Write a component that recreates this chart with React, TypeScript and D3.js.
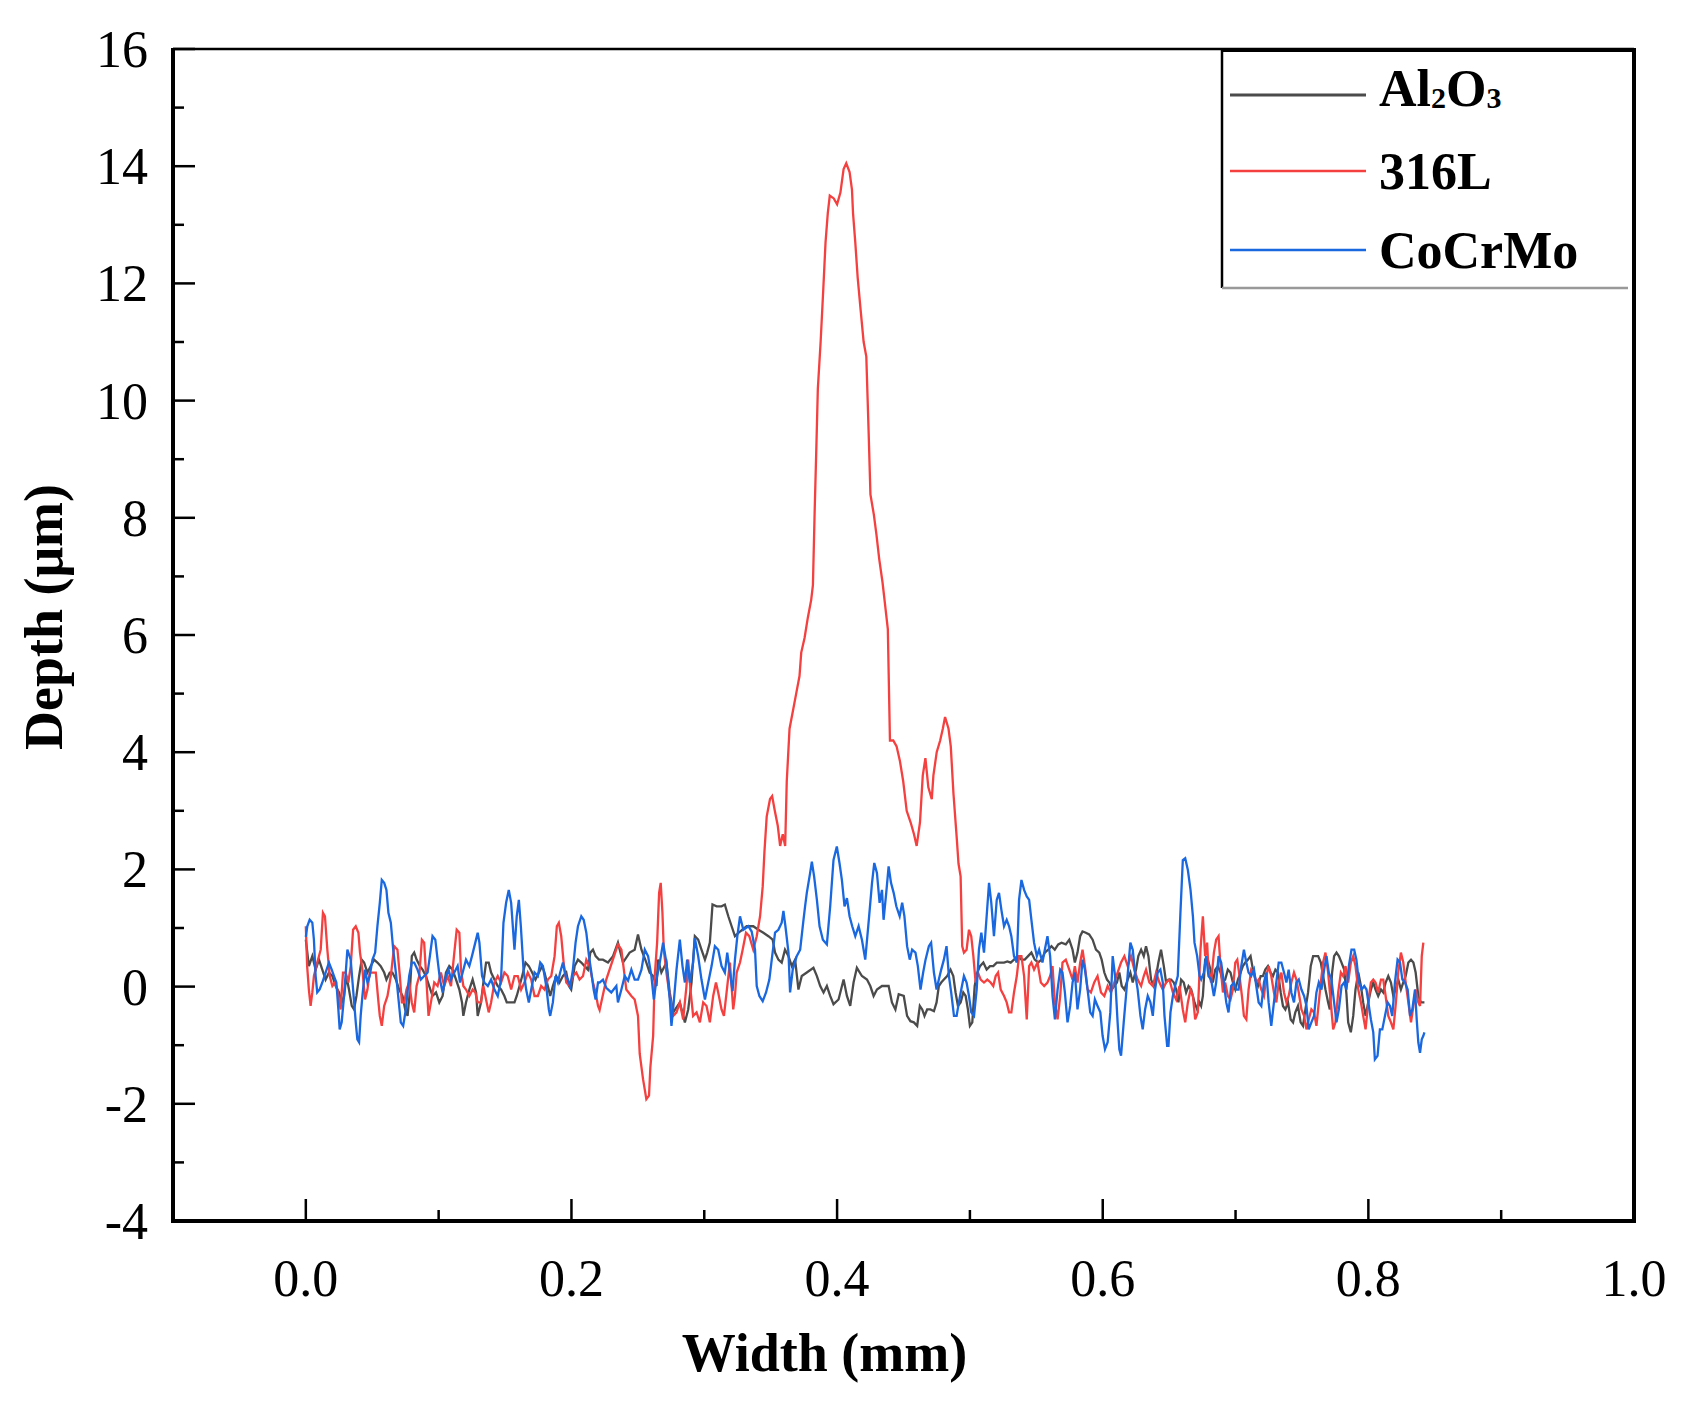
import React from 'react'
import * as d3 from 'd3'

type Pt = [number, number]

// Width (mm) vs depth (µm)
const al2o3Data: Pt[] = [
  [0.0, 0.8], [0.0023, 0.35], [0.0049, 0.52], [0.0074, 0.29], [0.0099, 0.46], [0.0124, 0.29], [0.0149, 0.12], [0.0174, 0.24],
  [0.02, 0.18], [0.0225, 0.01], [0.025, -0.1], [0.027, -0.27], [0.0288, -0.16], [0.0305, 0.18], [0.0325, -0.05], [0.0346, -0.33],
  [0.0363, -0.39], [0.0381, -0.16], [0.0401, 0.18], [0.0421, 0.46], [0.0439, 0.41], [0.0464, 0.24], [0.0489, 0.35], [0.0514, 0.46],
  [0.0539, 0.41], [0.0564, 0.35], [0.059, 0.24], [0.0607, 0.12], [0.0632, 0.24], [0.0652, 0.24], [0.0678, 0.12], [0.0703, -0.05],
  [0.0728, -0.16], [0.0748, -0.39], [0.0766, -0.5], [0.0783, -0.1], [0.0798, 0.52], [0.0816, 0.58], [0.0834, 0.46], [0.0859, 0.35],
  [0.0879, 0.29], [0.0904, 0.18], [0.0929, 0.01], [0.0954, -0.16], [0.098, -0.1], [0.1005, -0.27], [0.103, -0.16], [0.1055, 0.24],
  [0.108, 0.35], [0.1105, 0.29], [0.1131, 0.12], [0.1156, -0.05], [0.1176, -0.27], [0.1186, -0.5], [0.1206, -0.27], [0.1231, -0.05],
  [0.1256, 0.12], [0.1282, -0.1], [0.1294, -0.5], [0.1319, -0.27], [0.1337, 0.07], [0.1357, 0.41], [0.1377, 0.41], [0.1395, 0.24],
  [0.142, 0.12], [0.1445, 0.01], [0.147, -0.05], [0.1495, -0.16], [0.1513, -0.27], [0.1546, -0.27], [0.1571, -0.27], [0.1588, -0.16],
  [0.1609, 0.01], [0.1629, 0.18], [0.1654, 0.41], [0.1679, 0.35], [0.1704, 0.24], [0.1729, 0.12], [0.1755, 0.24], [0.178, 0.35],
  [0.1797, 0.24], [0.1822, 0.01], [0.184, -0.16], [0.186, 0.01], [0.1885, 0.18], [0.191, 0.07], [0.1936, 0.18], [0.1961, 0.24],
  [0.1981, 0.01], [0.1998, -0.05], [0.2024, 0.35], [0.2049, 0.46], [0.2074, 0.41], [0.2099, 0.35], [0.2124, 0.29], [0.2142, 0.58],
  [0.2162, 0.63], [0.2182, 0.52], [0.2207, 0.46], [0.2237, 0.46], [0.2275, 0.41], [0.2313, 0.52], [0.235, 0.75], [0.2388, 0.41],
  [0.2438, 0.58], [0.2476, 0.63], [0.2501, 0.89], [0.2527, 0.63], [0.2564, 0.41], [0.2589, 0.24], [0.2615, 0.18], [0.264, 0.01],
  [0.2652, 0.46], [0.2677, 0.24], [0.2715, 0.41], [0.274, -0.1], [0.2766, -0.44], [0.2816, -0.27], [0.2854, -0.61], [0.2879, -0.39],
  [0.2904, 0.07], [0.2929, 0.86], [0.2954, 0.8], [0.2979, 0.63], [0.3005, 0.46], [0.3022, 0.58], [0.3042, 0.75], [0.3062, 1.4],
  [0.3093, 1.37], [0.313, 1.37], [0.3155, 1.4], [0.3181, 1.2], [0.3206, 1.03], [0.3231, 0.86], [0.3269, 0.94], [0.3319, 1.03],
  [0.3369, 1.03], [0.3407, 0.97], [0.3445, 0.92], [0.3483, 0.86], [0.3515, 0.8], [0.3533, 0.58], [0.3558, 0.46], [0.3583, 0.41],
  [0.3608, 0.63], [0.3634, 0.52], [0.3659, 0.35], [0.3684, 0.46], [0.3709, -0.05], [0.3734, 0.18], [0.3772, 0.24], [0.3822, 0.32],
  [0.3848, 0.18], [0.3873, 0.01], [0.3898, -0.1], [0.3923, 0.01], [0.3948, -0.16], [0.3973, -0.3], [0.4011, -0.22], [0.4049, 0.12],
  [0.4074, -0.16], [0.4099, -0.33], [0.4124, 0.07], [0.4149, 0.32], [0.4187, 0.18], [0.4225, 0.12], [0.425, 0.01], [0.4275, -0.16],
  [0.43, -0.05], [0.4338, 0.01], [0.4388, 0.01], [0.4413, -0.27], [0.4439, -0.39], [0.4464, -0.13], [0.4502, -0.16], [0.4527, -0.5],
  [0.4552, -0.59], [0.4578, -0.61], [0.4603, -0.67], [0.4623, -0.33], [0.4641, -0.39], [0.4658, -0.5], [0.4678, -0.39], [0.4703, -0.39],
  [0.4729, -0.42], [0.4749, -0.27], [0.4766, 0.01], [0.4784, 0.07], [0.4804, 0.12], [0.4829, 0.18], [0.4854, 0.29], [0.4875, 0.18],
  [0.4892, -0.1], [0.491, -0.33], [0.493, -0.27], [0.495, -0.1], [0.4968, -0.16], [0.4985, -0.39], [0.5, -0.67], [0.5018, -0.61],
  [0.5036, 0.01], [0.5056, 0.24], [0.5076, 0.35], [0.5101, 0.41], [0.5126, 0.29], [0.5151, 0.35], [0.5176, 0.35], [0.5202, 0.41],
  [0.5227, 0.41], [0.5257, 0.41], [0.5282, 0.43], [0.5307, 0.41], [0.5332, 0.46], [0.5358, 0.52], [0.5388, 0.46], [0.5413, 0.46],
  [0.5438, 0.52], [0.5463, 0.58], [0.5488, 0.46], [0.5514, 0.41], [0.5539, 0.46], [0.5564, 0.58], [0.5589, 0.63], [0.5614, 0.69],
  [0.5639, 0.63], [0.5665, 0.72], [0.569, 0.75], [0.5722, 0.72], [0.5748, 0.8], [0.5773, 0.63], [0.579, 0.41], [0.581, 0.58],
  [0.583, 0.86], [0.5848, 0.94], [0.5873, 0.92], [0.5898, 0.89], [0.5924, 0.8], [0.5949, 0.63], [0.5974, 0.58], [0.5992, 0.46],
  [0.6012, 0.24], [0.6032, 0.12], [0.605, 0.07], [0.6067, -0.05], [0.6087, 0.01], [0.6107, 0.07], [0.6125, 0.24], [0.6143, 0.01],
  [0.6163, -0.05], [0.6188, 0.12], [0.6208, 0.24], [0.6226, 0.07], [0.6251, 0.29], [0.6268, 0.52], [0.6289, 0.63], [0.6309, 0.52],
  [0.6326, 0.69], [0.6344, 0.52], [0.6364, 0.12], [0.6384, 0.01], [0.6402, 0.18], [0.6419, 0.41], [0.6439, 0.63], [0.646, 0.35],
  [0.6477, 0.07], [0.6495, 0.12], [0.6515, 0.12], [0.6535, 0.07], [0.6553, -0.05], [0.657, -0.27], [0.659, 0.12], [0.661, 0.07],
  [0.6628, -0.1], [0.6646, 0.01], [0.6666, -0.05], [0.6691, -0.27], [0.6711, -0.39], [0.6729, -0.27], [0.6741, -0.33], [0.6754, -0.16],
  [0.6771, 0.46], [0.6791, 0.46], [0.6811, 0.29], [0.6829, 0.07], [0.6847, 0.29], [0.6867, 0.35], [0.6887, 0.24], [0.6905, 0.07],
  [0.6922, 0.12], [0.6942, 0.29], [0.6962, 0.24], [0.698, 0.07], [0.6998, -0.05], [0.7018, 0.12], [0.7038, 0.24], [0.7055, 0.35],
  [0.7073, 0.41], [0.7093, 0.46], [0.7113, 0.52], [0.7131, 0.29], [0.7149, 0.12], [0.7169, 0.01], [0.7189, 0.18], [0.7206, 0.18],
  [0.7224, 0.29], [0.7244, 0.35], [0.7264, 0.24], [0.7282, 0.18], [0.73, 0.29], [0.732, 0.24], [0.734, -0.1], [0.7357, -0.33],
  [0.7375, -0.39], [0.7395, -0.27], [0.7415, -0.56], [0.7433, -0.61], [0.745, -0.44], [0.747, -0.33], [0.749, -0.61], [0.7508, -0.67],
  [0.7526, -0.39], [0.7546, -0.1], [0.7566, 0.35], [0.7584, 0.52], [0.7601, 0.52], [0.7622, 0.52], [0.7642, 0.41], [0.7659, 0.18],
  [0.7677, -0.05], [0.7697, -0.27], [0.771, -0.39], [0.7727, 0.24], [0.7742, 0.52], [0.776, 0.58], [0.7778, 0.52], [0.7798, 0.41],
  [0.7818, 0.29], [0.7835, -0.13], [0.7848, -0.61], [0.7868, -0.78], [0.7886, -0.5], [0.7903, -0.05], [0.7924, 0.24], [0.7944, 0.01],
  [0.7961, -0.27], [0.7979, -0.5], [0.7999, -0.27], [0.8019, -0.05], [0.8037, 0.07], [0.8054, -0.05], [0.8074, -0.16], [0.8095, -0.05],
  [0.8112, -0.1], [0.813, 0.07], [0.815, 0.18], [0.817, 0.07], [0.8188, -0.16], [0.8205, -0.05], [0.8225, 0.12], [0.8245, -0.05],
  [0.8263, 0.07], [0.8281, 0.18], [0.8301, 0.41], [0.8321, 0.46], [0.8339, 0.41], [0.8356, 0.24], [0.8376, -0.16], [0.8396, -0.27],
  [0.8422, -0.27],
]

const ss316lData: Pt[] = [
  [0.0, 1.03], [0.001, 0.35], [0.0023, -0.05], [0.0036, -0.33], [0.0049, -0.1], [0.0061, 0.18], [0.0086, 0.41], [0.0112, 0.63],
  [0.0129, 1.26], [0.0144, 1.2], [0.0162, 0.63], [0.018, 0.18], [0.02, 0.01], [0.022, 0.07], [0.0237, -0.05], [0.0262, -0.39],
  [0.028, 0.24], [0.03, 0.24], [0.032, 0.07], [0.0338, 0.35], [0.0356, 0.97], [0.0376, 1.03], [0.0396, 0.92], [0.0408, 0.58],
  [0.0426, 0.29], [0.0446, -0.22], [0.0464, -0.05], [0.0481, 0.24], [0.0502, 0.24], [0.0527, 0.24], [0.0547, -0.27], [0.0557, -0.5],
  [0.0572, -0.67], [0.059, -0.33], [0.0615, -0.16], [0.064, 0.18], [0.0665, 0.69], [0.069, 0.63], [0.0708, 0.18], [0.0723, -0.27],
  [0.0741, -0.27], [0.0758, -0.05], [0.0778, 0.07], [0.0798, -0.27], [0.0816, -0.44], [0.0834, 0.01], [0.0854, 0.18], [0.0874, 0.8],
  [0.0891, 0.75], [0.0909, 0.07], [0.0924, -0.5], [0.0942, -0.27], [0.0967, 0.07], [0.0992, 0.01], [0.1017, 0.24], [0.1042, 0.01],
  [0.1068, 0.18], [0.1093, 0.01], [0.1118, 0.58], [0.1136, 0.97], [0.1156, 0.92], [0.1168, 0.29], [0.1186, 0.01], [0.1206, -0.05],
  [0.1231, -0.16], [0.1256, -0.05], [0.1276, -0.1], [0.1294, -0.27], [0.1319, -0.27], [0.1337, 0.01], [0.1357, -0.22], [0.1377, -0.44],
  [0.1395, -0.27], [0.142, 0.07], [0.1445, 0.18], [0.147, 0.07], [0.1495, 0.24], [0.152, 0.18], [0.1546, -0.05], [0.1571, 0.18],
  [0.1596, 0.18], [0.1621, -0.05], [0.1646, 0.07], [0.1671, 0.24], [0.1697, 0.12], [0.1722, -0.16], [0.1747, -0.16], [0.1772, 0.01],
  [0.1797, -0.05], [0.1822, 0.12], [0.1848, 0.18], [0.1873, 0.52], [0.189, 1.03], [0.1905, 1.09], [0.1923, 0.86], [0.1941, 0.41],
  [0.1961, 0.07], [0.1986, 0.01], [0.2011, 0.18], [0.2036, 0.24], [0.2061, 0.12], [0.2087, 0.18], [0.2112, 0.46], [0.2137, 0.35],
  [0.2162, 0.07], [0.2182, -0.1], [0.22, -0.33], [0.2212, -0.4], [0.2262, 0.12], [0.235, 0.72], [0.2376, 0.63], [0.2413, -0.05],
  [0.2451, -0.16], [0.2476, -0.22], [0.2501, -0.5], [0.2514, -1.15], [0.2539, -1.58], [0.2564, -1.92], [0.2584, -1.86], [0.2594, -1.38],
  [0.2615, -0.84], [0.2627, 0.18], [0.2645, 0.75], [0.266, 1.6], [0.2672, 1.77], [0.2685, 1.26], [0.2695, 0.63], [0.2715, 0.24],
  [0.274, -0.16], [0.2766, -0.5], [0.2791, -0.44], [0.2816, -0.27], [0.2841, -0.56], [0.2866, 0.01], [0.2879, 0.46], [0.2896, -0.05],
  [0.2916, -0.5], [0.2942, -0.44], [0.2967, -0.61], [0.2992, -0.27], [0.3017, -0.33], [0.3042, -0.61], [0.3067, -0.16], [0.3088, 0.07],
  [0.3105, -0.1], [0.313, -0.39], [0.3148, -0.5], [0.3168, -0.1], [0.3193, 0.41], [0.3218, -0.39], [0.3231, -0.16], [0.3244, 0.24],
  [0.3269, 0.41], [0.3289, 0.63], [0.3314, 0.92], [0.3339, 0.86], [0.3369, 0.63], [0.3395, 0.86], [0.342, 1.2], [0.344, 1.71],
  [0.3453, 2.3], [0.347, 2.9], [0.3495, 3.2], [0.3511, 3.25], [0.3531, 3.0], [0.3553, 2.75], [0.3571, 2.4], [0.3591, 2.6],
  [0.3609, 2.4], [0.3621, 3.5], [0.3642, 4.4], [0.3667, 4.7], [0.3692, 5.0], [0.3717, 5.3], [0.373, 5.7], [0.3755, 5.95],
  [0.378, 6.3], [0.3805, 6.6], [0.3818, 6.85], [0.3831, 8.1], [0.3845, 9.3], [0.3855, 10.2], [0.3876, 11.0], [0.3896, 11.9],
  [0.3913, 12.7], [0.393, 13.2], [0.3945, 13.5], [0.3975, 13.45], [0.4, 13.35], [0.4025, 13.55], [0.4049, 13.95], [0.4069, 14.05],
  [0.4094, 13.9], [0.4112, 13.6], [0.412, 13.2], [0.4137, 12.7], [0.4155, 12.1], [0.4175, 11.6], [0.42, 11.0], [0.422, 10.75],
  [0.4237, 9.5], [0.4251, 8.4], [0.4277, 8.05], [0.4297, 7.7], [0.4317, 7.3], [0.4342, 6.9], [0.4362, 6.5], [0.4382, 6.1],
  [0.4398, 4.2], [0.4423, 4.2], [0.4448, 4.1], [0.4473, 3.85], [0.4498, 3.5], [0.4524, 3.0], [0.4554, 2.8], [0.4579, 2.6],
  [0.4599, 2.4], [0.4624, 2.8], [0.4645, 3.6], [0.4665, 3.9], [0.4687, 3.4], [0.4713, 3.2], [0.4725, 3.6], [0.475, 4.0],
  [0.4776, 4.2], [0.4796, 4.4], [0.4813, 4.6], [0.4839, 4.4], [0.4856, 4.1], [0.4876, 3.3], [0.4902, 2.5], [0.4914, 2.1],
  [0.493, 1.88], [0.4942, 0.69],
  [0.4955, 0.58], [0.4975, 0.63], [0.4993, 0.97], [0.501, 0.86], [0.5026, 0.52], [0.5043, 0.07], [0.5061, 0.24], [0.5081, 0.12],
  [0.5106, 0.07], [0.5131, 0.12], [0.5156, 0.07], [0.5176, 0.01], [0.5194, 0.18], [0.5212, 0.24], [0.5232, -0.05], [0.5257, -0.16],
  [0.5277, -0.27], [0.5295, -0.44], [0.5312, -0.44], [0.5332, -0.1], [0.5353, 0.18], [0.537, 0.52], [0.5388, 0.52], [0.5408, 0.18],
  [0.5428, -0.56], [0.5446, 0.35], [0.5463, 0.41], [0.5483, 0.29], [0.5509, 0.41], [0.5534, 0.07], [0.5559, 0.01], [0.5584, 0.07],
  [0.5604, 0.18], [0.5622, 0.35], [0.564, -0.27], [0.566, -0.56], [0.568, -0.16], [0.5697, 0.41], [0.5722, 0.46], [0.5748, 0.29],
  [0.5773, 0.12], [0.579, 0.35], [0.581, 0.07], [0.583, 0.41], [0.5848, 0.63], [0.5866, 0.35], [0.5886, -0.05], [0.5911, -0.1],
  [0.5936, 0.07], [0.5961, 0.18], [0.5987, -0.1], [0.6012, -0.16], [0.6037, 0.01], [0.6062, -0.1], [0.6087, 0.07], [0.6112, 0.24],
  [0.6138, 0.41], [0.6163, 0.52], [0.6188, 0.35], [0.6213, 0.52], [0.6238, 0.29], [0.6263, 0.12], [0.6289, 0.01], [0.6309, 0.18],
  [0.6326, 0.29], [0.6351, 0.07], [0.6377, 0.01], [0.6402, 0.24], [0.6427, 0.07], [0.6452, -0.05], [0.6477, 0.07], [0.6502, 0.12],
  [0.6528, -0.1], [0.6553, -0.22], [0.6578, 0.01], [0.6603, -0.39], [0.6621, -0.61], [0.6641, -0.27], [0.6661, -0.05], [0.6679, -0.16],
  [0.6696, -0.56], [0.6716, -0.44], [0.6736, 0.63], [0.6754, 1.2], [0.6771, 0.52], [0.6786, 0.75], [0.6796, 0.29], [0.6816, 0.07],
  [0.6837, 0.58], [0.6854, 0.8], [0.6872, 0.86], [0.6887, 0.35], [0.6905, -0.1], [0.6922, 0.07], [0.6942, -0.16], [0.6962, -0.22],
  [0.698, -0.05], [0.6998, 0.41], [0.7013, 0.46], [0.703, 0.18], [0.7048, -0.16], [0.7063, -0.5], [0.7081, -0.56], [0.7098, -0.05],
  [0.7118, 0.29], [0.7139, 0.24], [0.7156, 0.07], [0.7174, 0.12], [0.7194, -0.05], [0.7214, -0.16], [0.7232, 0.18], [0.7249, 0.35],
  [0.7269, 0.18], [0.7289, -0.1], [0.7307, -0.27], [0.7325, 0.07], [0.7345, 0.24], [0.7365, -0.1], [0.7383, -0.27], [0.74, -0.16],
  [0.742, 0.07], [0.744, 0.24], [0.7458, 0.12], [0.7476, -0.1], [0.7496, -0.39], [0.7516, -0.5], [0.7534, -0.73], [0.7551, -0.56],
  [0.7571, -0.39], [0.7591, -0.44], [0.7609, -0.67], [0.7627, -0.27], [0.7642, 0.07], [0.7659, 0.41], [0.7677, 0.58], [0.7697, 0.24],
  [0.7717, -0.27], [0.7735, -0.73], [0.7752, -0.61], [0.7773, -0.1], [0.7793, 0.24], [0.781, 0.18], [0.7828, 0.35], [0.7848, 0.07],
  [0.7868, 0.41], [0.7886, 0.52], [0.7903, 0.35], [0.7924, -0.05], [0.7944, -0.27], [0.7961, -0.5], [0.7979, -0.73], [0.7999, -0.27],
  [0.8019, 0.07], [0.8037, 0.12], [0.8054, 0.07], [0.8074, -0.1], [0.8095, 0.12], [0.8112, 0.12], [0.813, -0.16], [0.815, -0.5],
  [0.817, -0.61], [0.8188, -0.73], [0.8205, -0.33], [0.8225, 0.24], [0.8245, 0.58], [0.8263, 0.41], [0.8281, 0.07], [0.8301, -0.27],
  [0.8321, -0.61], [0.8339, -0.33], [0.8356, -0.05], [0.8376, -0.27], [0.8389, -0.33], [0.8402, 0.52], [0.8414, 0.75],
]

const cocrmoData: Pt[] = [
  [0.0, 0.85], [0.0011, 1.03], [0.0029, 1.14], [0.0049, 1.09], [0.0061, 0.8], [0.0074, 0.18], [0.0086, -0.1], [0.0104, -0.05],
  [0.0124, 0.07], [0.0149, 0.24], [0.0174, 0.41], [0.0195, 0.29], [0.0212, 0.18], [0.023, 0.07], [0.0245, -0.39], [0.0255, -0.73],
  [0.027, -0.61], [0.0288, -0.16], [0.0313, 0.63], [0.0338, 0.46], [0.0356, -0.05], [0.0376, -0.61], [0.0388, -0.9], [0.0401, -0.95],
  [0.0413, -0.5], [0.0426, -0.16], [0.0446, 0.29], [0.0464, 0.07], [0.0481, 0.18], [0.0502, 0.46], [0.0522, 0.58], [0.0539, 1.03],
  [0.0557, 1.43], [0.0572, 1.82], [0.059, 1.77], [0.0607, 1.65], [0.0622, 1.26], [0.064, 1.09], [0.0658, 0.63], [0.0678, 0.24],
  [0.0698, -0.22], [0.0715, -0.61], [0.0733, -0.67], [0.0753, -0.39], [0.0778, 0.18], [0.0798, 0.41], [0.0816, 0.41], [0.0841, 0.29],
  [0.0866, 0.12], [0.0891, 0.18], [0.0917, 0.24], [0.0934, 0.52], [0.0954, 0.86], [0.0975, 0.8], [0.0992, 0.46], [0.101, 0.12],
  [0.103, -0.1], [0.1055, 0.18], [0.1075, 0.29], [0.1093, 0.12], [0.1118, 0.24], [0.1143, 0.35], [0.1161, 0.07], [0.1181, 0.24],
  [0.1206, 0.46], [0.1231, 0.35], [0.1251, 0.52], [0.1276, 0.75], [0.1294, 0.92], [0.1307, 0.75], [0.1327, 0.18], [0.1344, 0.07],
  [0.137, 0.01], [0.1395, 0.12], [0.142, -0.05], [0.1445, -0.16], [0.147, 0.12], [0.1488, 1.09], [0.1508, 1.43], [0.1528, 1.65],
  [0.1546, 1.43], [0.1571, 0.63], [0.1588, 1.2], [0.1604, 1.48], [0.1619, 1.03], [0.1639, 0.29], [0.1659, -0.05], [0.1679, -0.27],
  [0.1697, -0.05], [0.1722, 0.24], [0.1747, 0.18], [0.1765, 0.41], [0.1785, 0.35], [0.181, 0.01], [0.183, -0.39], [0.184, -0.5],
  [0.186, -0.27], [0.188, 0.18], [0.1898, 0.07], [0.1915, 0.24], [0.1936, 0.41], [0.1956, 0.18], [0.1973, 0.12], [0.1991, 0.01],
  [0.2011, 0.29], [0.2031, 0.75], [0.2049, 1.03], [0.2074, 1.2], [0.2092, 1.14], [0.2112, 0.92], [0.2132, 0.52], [0.215, 0.24],
  [0.2167, -0.05], [0.2182, -0.22], [0.22, 0.07], [0.2212, 0.07], [0.2237, 0.12], [0.2262, -0.02], [0.23, -0.1], [0.2338, 0.01],
  [0.235, -0.27], [0.2376, -0.05], [0.2401, 0.18], [0.2426, 0.1], [0.2451, 0.29], [0.2476, 0.12], [0.2501, 0.12], [0.2527, 0.29],
  [0.2552, 0.63], [0.2577, 0.52], [0.2602, 0.18], [0.262, -0.22], [0.264, 0.12], [0.2665, 0.41], [0.269, 0.75], [0.2715, 0.41],
  [0.274, -0.22], [0.2753, -0.67], [0.277, -0.27], [0.2791, 0.29], [0.2816, 0.8], [0.2836, 0.35], [0.2854, 0.07], [0.2871, 0.46],
  [0.2891, 0.07], [0.2916, 0.41], [0.2929, 0.83], [0.2954, 0.52], [0.2979, 0.12], [0.3005, -0.22], [0.303, 0.07], [0.3055, 0.35],
  [0.308, 0.69], [0.3105, 0.63], [0.313, 0.35], [0.3155, 0.24], [0.3173, 0.58], [0.3193, 0.24], [0.3213, -0.08], [0.3231, 0.46],
  [0.3249, 0.86], [0.3269, 1.2], [0.3294, 0.97], [0.3332, 1.03], [0.3357, 0.94], [0.3382, 0.63], [0.3395, 0.01], [0.3415, -0.16],
  [0.344, -0.25], [0.3465, -0.1], [0.349, 0.12], [0.3508, 0.46], [0.3533, 0.92], [0.3558, 0.97], [0.3583, 1.09], [0.3596, 1.29],
  [0.3611, 1.03], [0.3634, 0.58], [0.3646, -0.1], [0.3666, 0.29], [0.3696, 0.52], [0.3722, 0.63], [0.3747, 1.14], [0.3759, 1.37],
  [0.3772, 1.6], [0.3797, 1.94], [0.381, 2.13], [0.3827, 1.88], [0.3848, 1.48], [0.3868, 1.03], [0.3893, 0.8], [0.3923, 0.72],
  [0.3948, 1.37], [0.3973, 2.16], [0.3998, 2.39], [0.4018, 2.11], [0.4036, 1.82], [0.4056, 1.37], [0.4074, 1.51], [0.4094, 1.2],
  [0.4114, 1.03], [0.4137, 0.86], [0.4162, 1.03], [0.4187, 0.8], [0.4212, 0.46], [0.4237, 1.09], [0.4263, 1.77], [0.428, 2.11],
  [0.43, 1.94], [0.432, 1.43], [0.4338, 1.65], [0.435, 1.14], [0.437, 1.6], [0.4388, 2.05], [0.4406, 1.77], [0.4426, 1.6],
  [0.4446, 1.37], [0.4471, 1.2], [0.449, 1.43], [0.4507, 1.2], [0.4527, 0.69], [0.4547, 0.46], [0.4565, 0.63], [0.459, 0.58],
  [0.4608, 0.35], [0.4628, -0.05], [0.4648, 0.24], [0.4666, 0.46], [0.4691, 0.69], [0.4708, 0.75], [0.4729, 0.24], [0.4749, -0.05],
  [0.4766, 0.12], [0.4784, 0.29], [0.4804, 0.46], [0.4824, 0.69], [0.4842, 0.18], [0.4859, -0.1], [0.488, -0.5], [0.49, -0.5],
  [0.4917, -0.27], [0.4935, -0.05], [0.4955, 0.18], [0.4975, 0.07], [0.4993, -0.16], [0.501, -0.44], [0.5031, -0.5], [0.5051, -0.05],
  [0.5068, 0.63], [0.5086, 0.92], [0.5106, 0.58], [0.5126, 1.2], [0.5144, 1.77], [0.5161, 1.43], [0.5181, 0.86], [0.5202, 1.48],
  [0.5219, 1.6], [0.5237, 1.31], [0.5257, 1.03], [0.5277, 1.14], [0.5295, 1.03], [0.5312, 0.86], [0.5332, 0.52], [0.5353, 0.41],
  [0.537, 1.48], [0.5388, 1.82], [0.5408, 1.65], [0.5428, 1.54], [0.5446, 1.48], [0.5463, 1.14], [0.5483, 0.75], [0.5504, 0.52],
  [0.5521, 0.63], [0.5546, 0.41], [0.5564, 0.63], [0.5584, 0.86], [0.5604, 0.52], [0.5622, -0.16], [0.564, -0.56], [0.566, -0.05],
  [0.568, 0.29], [0.5697, 0.24], [0.5715, -0.1], [0.5735, -0.61], [0.5755, -0.33], [0.5773, 0.07], [0.579, 0.24], [0.581, -0.39],
  [0.583, -0.05], [0.5848, 0.46], [0.5866, 0.29], [0.5886, -0.05], [0.5906, -0.44], [0.5924, -0.5], [0.5941, -0.22], [0.5961, -0.33],
  [0.5982, -0.44], [0.5999, -0.84], [0.6017, -1.07], [0.6037, -0.95], [0.6057, -0.44], [0.6075, 0.52], [0.6093, 0.18], [0.6112, -0.61],
  [0.6125, -1.07], [0.6138, -1.18], [0.6158, -0.61], [0.6175, -0.16], [0.6193, 0.35], [0.6208, 0.75], [0.6226, 0.63], [0.6243, 0.24],
  [0.6263, -0.05], [0.6284, -0.5], [0.6301, -0.73], [0.6319, -0.39], [0.6339, -0.16], [0.6359, -0.27], [0.6377, -0.5], [0.6394, -0.05],
  [0.6414, 0.24], [0.6434, 0.29], [0.6452, 0.07], [0.6465, -0.5], [0.6485, -1.01], [0.6495, -1.01], [0.651, -0.44], [0.6528, -0.16],
  [0.6545, 0.01], [0.6565, 0.18], [0.6585, 1.26], [0.6603, 2.16], [0.6621, 2.19], [0.6641, 1.99], [0.6661, 1.65], [0.6679, 1.2],
  [0.6691, 0.75], [0.6711, 0.52], [0.6729, 0.18], [0.6741, 0.12], [0.6761, 0.24], [0.6779, 0.52], [0.6796, 0.18], [0.6816, 0.12],
  [0.6837, -0.16], [0.6854, 0.07], [0.6872, 0.52], [0.6892, 0.41], [0.6912, 0.07], [0.693, -0.27], [0.6947, -0.44], [0.6967, 0.01],
  [0.6988, 0.07], [0.7005, -0.05], [0.7023, -0.05], [0.7043, 0.35], [0.7063, 0.63], [0.7081, 0.41], [0.7098, 0.24], [0.7118, 0.18],
  [0.7139, 0.29], [0.7156, 0.01], [0.7174, -0.27], [0.7194, -0.33], [0.7214, 0.07], [0.7232, 0.24], [0.7249, -0.27], [0.7269, -0.67],
  [0.7289, -0.27], [0.7307, 0.07], [0.7325, 0.41], [0.7345, 0.41], [0.7365, 0.24], [0.7383, 0.07], [0.74, 0.29], [0.742, -0.1],
  [0.744, -0.27], [0.7458, 0.07], [0.7476, 0.12], [0.7496, -0.05], [0.7516, -0.16], [0.7534, -0.33], [0.7551, -0.73], [0.7571, -0.61],
  [0.7591, -0.5], [0.7609, -0.1], [0.7627, 0.07], [0.7647, -0.05], [0.7667, 0.29], [0.7685, 0.52], [0.7702, 0.24], [0.7722, 0.12],
  [0.7742, -0.27], [0.776, -0.61], [0.7778, -0.39], [0.7798, 0.01], [0.7818, 0.07], [0.7835, -0.05], [0.7853, 0.35], [0.7873, 0.63],
  [0.7893, 0.63], [0.791, 0.46], [0.7929, 0.07], [0.7949, -0.05], [0.7969, 0.01], [0.7986, -0.05], [0.8004, -0.33], [0.8019, -0.56],
  [0.8037, -0.78], [0.8049, -1.24], [0.8069, -1.18], [0.8087, -0.73], [0.8105, -0.73], [0.8125, -0.5], [0.8145, -0.27], [0.8163, -0.33],
  [0.818, -0.5], [0.82, 0.07], [0.822, 0.46], [0.8238, 0.41], [0.8256, 0.12], [0.8276, 0.07], [0.8296, -0.05], [0.8314, -0.5],
  [0.8331, -0.39], [0.8351, -0.05], [0.8364, -0.56], [0.8376, -0.95], [0.8389, -1.13], [0.8402, -0.9], [0.8414, -0.84], [0.8422, -0.78],
]

const seriesNames = ['Al2O3', '316L', 'CoCrMo']
const seriesColors = ['#4b4b4b', '#f54040', '#1a68e0']

const xMajorTicks = [0, 0.2, 0.4, 0.6, 0.8, 1.0]
const xTickLabels = ['0.0', '0.2', '0.4', '0.6', '0.8', '1.0']
const xMinorTicks = [0.1, 0.3, 0.5, 0.7, 0.9]
const yMajorTicks = [-4, -2, 0, 2, 4, 6, 8, 10, 12, 14, 16]
const yMinorTicks = [-3, -1, 1, 3, 5, 7, 9, 11, 13, 15]

const W = 1691
const H = 1405
const L = 173
const R = 1634
const T = 49
const B = 1221
const FONT = '"Liberation Serif", "Times New Roman", serif'

export default function App() {
  const x = d3.scaleLinear().domain([-0.1, 1.0]).range([L, R])
  const y = d3.scaleLinear().domain([-4, 16]).range([B, T])
  const line = d3
    .line<Pt>()
    .x(d => x(d[0]))
    .y(d => y(d[1]))

  const series = [al2o3Data, ss316lData, cocrmoData]

  // legend geometry
  const lgL = 1222
  const lgB = 288
  const lgRows = [95, 171, 250]
  const lgText = [106, 189, 268]

  return (
    <svg
      width={W}
      height={H}
      viewBox={`0 0 ${W} ${H}`}
      style={{ position: 'absolute', left: 0, top: 0, background: '#fff' }}
      fontFamily={FONT}
    >
      <rect x={0} y={0} width={W} height={H} fill="#fff" />

      {/* data */}
      {series.map((s, i) => (
        <path key={seriesNames[i]} d={line(s) || ''} fill="none" stroke={seriesColors[i]} strokeWidth={2.3} />
      ))}

      {/* ticks, inward */}
      {xMajorTicks.map(t => (
        <line key={`xM${t}`} x1={x(t)} x2={x(t)} y1={B} y2={B - 22} stroke="#000" strokeWidth={2.5} />
      ))}
      {xMinorTicks.map(t => (
        <line key={`xm${t}`} x1={x(t)} x2={x(t)} y1={B} y2={B - 11} stroke="#000" strokeWidth={2.5} />
      ))}
      {yMajorTicks.map(t => (
        <line key={`yM${t}`} x1={L} x2={L + 22} y1={y(t)} y2={y(t)} stroke="#000" strokeWidth={2.5} />
      ))}
      {yMinorTicks.map(t => (
        <line key={`ym${t}`} x1={L} x2={L + 11} y1={y(t)} y2={y(t)} stroke="#000" strokeWidth={2.5} />
      ))}

      {/* frame */}
      <line x1={L} x2={R} y1={T} y2={T} stroke="#000" strokeWidth={2.5} />
      <line x1={R} x2={R} y1={T - 1} y2={B + 2} stroke="#000" strokeWidth={4} />
      <line x1={L} x2={R + 2} y1={B} y2={B} stroke="#000" strokeWidth={4} />
      <line x1={L} x2={L} y1={T - 1} y2={B + 2} stroke="#000" strokeWidth={4} />

      {/* tick labels */}
      {xMajorTicks.map((t, i) => (
        <text key={`xl${t}`} x={x(t)} y={1296} textAnchor="middle" fontSize={52} fill="#000">
          {xTickLabels[i]}
        </text>
      ))}
      {yMajorTicks.map(t => (
        <text key={`yl${t}`} x={148} y={y(t) + 18} textAnchor="end" fontSize={52} fill="#000">
          {t}
        </text>
      ))}

      {/* axis titles */}
      <text x={(L + R) / 2 - 79} y={1371} textAnchor="middle" fontSize={54} fontWeight="bold" fill="#000">
        Width (mm)
      </text>
      <text
        transform={`translate(62, ${(T + B) / 2 - 18}) rotate(-90)`}
        textAnchor="middle"
        fontSize={54}
        fontWeight="bold"
        fill="#000"
      >
        Depth (μm)
      </text>

      {/* legend */}
      <rect x={lgL} y={T} width={R - lgL} height={lgB - T} fill="#fff" />
      <line x1={lgL} x2={R} y1={T + 1} y2={T + 1} stroke="#000" strokeWidth={4} />
      <line x1={lgL} x2={lgL} y1={T} y2={lgB} stroke="#000" strokeWidth={2.5} />
      <line x1={lgL} x2={R - 6} y1={lgB} y2={lgB} stroke="#999" strokeWidth={2.5} />
      <line x1={R} x2={R} y1={T - 1} y2={lgB + 4} stroke="#000" strokeWidth={4} />
      {seriesNames.map((n, i) => (
        <g key={`lg${n}`}>
          <line x1={1230} x2={1366} y1={lgRows[i]} y2={lgRows[i]} stroke={seriesColors[i]} strokeWidth={i === 0 ? 3 : 2.5} />
          {i === 0 ? (
            <text x={1379} y={lgText[i]} fontSize={52} fontWeight="bold" fill="#000">
              Al
              <tspan fontSize={30} dy={2}>2</tspan>
              <tspan dy={-2}>O</tspan>
              <tspan fontSize={30} dy={2}>3</tspan>
            </text>
          ) : (
            <text x={1379} y={lgText[i]} fontSize={52} fontWeight="bold" fill="#000">
              {n}
            </text>
          )}
        </g>
      ))}
    </svg>
  )
}
